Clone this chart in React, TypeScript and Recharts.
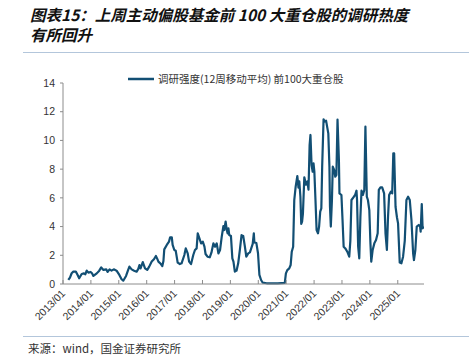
import React from 'react';
import { LineChart, Line, XAxis, YAxis, Legend } from 'recharts';

const seriesName = '调研强度(12周移动平均) 前100大重仓股';
const yearTicks = [2013, 2014, 2015, 2016, 2017, 2018, 2019, 2020, 2021, 2022, 2023, 2024, 2025];
const yTicks = [0, 2, 4, 6, 8, 10, 12, 14];

const yearFrac = [
  2013.19, 2013.25, 2013.31, 2013.37, 2013.46, 2013.52, 2013.58, 2013.67, 2013.75, 2013.80, 2013.85, 2013.91, 2013.99,
  2014.04, 2014.09, 2014.15, 2014.21, 2014.30, 2014.37, 2014.45, 2014.55, 2014.60, 2014.67, 2014.74, 2014.82, 2014.92,
  2015.02, 2015.10, 2015.16, 2015.26, 2015.32, 2015.38, 2015.46, 2015.55, 2015.64, 2015.70, 2015.74, 2015.78, 2015.86, 2015.94,
  2016.02, 2016.09, 2016.18, 2016.26, 2016.33, 2016.38, 2016.42, 2016.51, 2016.56, 2016.60, 2016.63, 2016.72, 2016.80, 2016.84, 2016.90, 2016.93, 2016.99,
  2017.04, 2017.11, 2017.19, 2017.25, 2017.35, 2017.40, 2017.47, 2017.52, 2017.59, 2017.67, 2017.73, 2017.79, 2017.83, 2017.89, 2017.95,
  2018.01, 2018.07, 2018.11, 2018.18, 2018.26, 2018.32, 2018.39, 2018.45, 2018.51, 2018.57, 2018.63, 2018.69, 2018.75, 2018.78, 2018.83, 2018.87, 2018.90, 2018.93, 2018.96,
  2019.02, 2019.07, 2019.11, 2019.16, 2019.22, 2019.28, 2019.34, 2019.40, 2019.46, 2019.52, 2019.57, 2019.64, 2019.70, 2019.80, 2019.84, 2019.86, 2019.93, 2019.99,
  2020.04, 2020.10, 2020.16, 2020.30, 2020.50, 2020.70, 2020.95, 2020.99,
  2021.04, 2021.11, 2021.16, 2021.20, 2021.25, 2021.29, 2021.34, 2021.40, 2021.44, 2021.47, 2021.51, 2021.54, 2021.57, 2021.60, 2021.65, 2021.71, 2021.76, 2021.80, 2021.84, 2021.87, 2021.91, 2021.95, 2021.98,
  2022.01, 2022.05, 2022.09, 2022.14, 2022.18, 2022.22, 2022.26, 2022.29, 2022.34, 2022.38, 2022.43, 2022.51, 2022.55, 2022.57, 2022.60, 2022.64, 2022.67, 2022.72, 2022.76, 2022.80, 2022.84, 2022.89, 2022.91, 2022.98,
  2023.02, 2023.06, 2023.12, 2023.19, 2023.26, 2023.30, 2023.34, 2023.41, 2023.47, 2023.52, 2023.54, 2023.58, 2023.62, 2023.66, 2023.70, 2023.75, 2023.80, 2023.84, 2023.89, 2023.93, 2023.98,
  2024.02, 2024.05, 2024.10, 2024.16, 2024.22, 2024.28, 2024.32, 2024.38, 2024.44, 2024.51, 2024.56, 2024.61, 2024.65, 2024.69, 2024.75, 2024.80, 2024.84, 2024.87, 2024.92, 2024.97,
  2025.01, 2025.07, 2025.13, 2025.19, 2025.25, 2025.31, 2025.37, 2025.43, 2025.49, 2025.55, 2025.58, 2025.63, 2025.68, 2025.75, 2025.80, 2025.82, 2025.86, 2025.89, 2025.94,
];

const intensity = [
  0.28, 0.45, 0.75, 0.86, 0.86, 0.65, 0.40, 0.70, 0.74, 0.68, 0.93, 0.79, 0.84,
  0.75, 0.56, 0.65, 0.74, 0.93, 1.16, 0.98, 1.02, 0.84, 1.02, 0.93, 1.02, 0.93,
  0.63, 0.33, 0.23, 0.56, 0.90, 1.21, 1.02, 0.93, 0.86, 1.05, 1.32, 1.09, 1.53, 1.09,
  0.98, 1.21, 1.56, 1.72, 1.95, 1.75, 1.56, 1.39, 1.25, 1.60, 2.41, 2.72, 2.95, 3.25, 3.25, 2.72, 2.37,
  2.32, 1.49, 1.39, 1.44, 2.02, 2.48, 2.13, 1.56, 1.39, 2.02, 2.37, 2.48, 3.53, 3.18, 2.83,
  2.95, 2.60, 2.09, 1.90, 1.86, 2.18, 2.83, 2.60, 2.83, 2.13, 2.37, 3.30, 4.04, 3.76, 4.35, 3.76, 3.53, 3.88, 3.41,
  3.34, 1.79, 1.56, 0.86, 0.93, 1.44, 2.37, 3.40, 3.35, 2.60, 1.90, 2.13, 2.20, 2.79, 3.53, 2.90, 2.86, 2.14,
  0.63, 0.28, 0.09, 0.05, 0.05, 0.05, 0.08, 0.74,
  0.97, 1.09, 1.32, 2.25, 2.60, 5.85, 6.78, 7.52, 6.71, 7.15, 6.08, 4.18, 4.34, 4.90, 7.43, 6.92, 7.15, 6.57, 9.68, 10.38, 8.29, 7.82, 8.40,
  7.82, 5.85, 3.76, 3.53, 4.00, 5.04, 5.27, 8.17, 11.47, 11.31, 11.38, 10.49, 8.17, 5.38, 4.00, 5.85, 8.17, 7.94, 7.47, 7.60, 11.45, 8.63, 6.31, 6.20,
  4.46, 2.60, 2.48, 2.25, 1.90, 3.00, 5.85, 6.04, 6.20, 6.50, 5.85, 2.60, 1.79, 4.65, 6.50, 6.20, 6.55, 10.96, 6.08, 5.85, 5.15,
  2.83, 1.56, 2.37, 2.83, 3.06, 3.53, 6.55, 6.73, 6.73, 6.31, 3.53, 2.37, 4.65, 6.20, 6.43, 6.31, 9.10, 9.10, 5.38, 4.65,
  4.22, 1.49, 1.44, 1.90, 3.00, 5.85, 6.08, 5.85, 4.46, 2.14, 1.67, 2.37, 4.00, 4.11, 4.00, 3.65, 5.57, 3.88, 4.00,
];

const data = yearFrac.map((t, i) => ({ t, v: intensity[i] }));

const LINE_COLOR = '#124f74';
const AXIS_COLOR = '#8c8c8c';
const TEXT_COLOR = '#333333';
const LATIN = '"Liberation Sans", Arial, "Noto Sans CJK SC", sans-serif';
const CJK = '"Noto Sans CJK SC", "Liberation Sans", sans-serif';

const XTick = (props: any) => {
  const { x, y, payload } = props;
  const ax = x + 3;
  const ay = y + 10;
  return (
    <g>
      <line x1={x} x2={x} y1={y} y2={y - 4} stroke={AXIS_COLOR} strokeWidth={1} />
      <text
        x={ax}
        y={ay}
        textAnchor="end"
        transform={`rotate(-45 ${ax} ${ay})`}
        fontSize={10.5}
        fontFamily={LATIN}
        fill={TEXT_COLOR}
      >
        {`${payload.value}/01`}
      </text>
    </g>
  );
};

const LegendContent = () => (
  <div style={{ display: 'flex', alignItems: 'center', whiteSpace: 'nowrap' }}>
    <svg width={28} height={8} style={{ display: 'block' }}>
      <line x1={1} x2={27} y1={4} y2={4} stroke={LINE_COLOR} strokeWidth={2.5} />
    </svg>
    <span style={{ fontSize: 10.5, fontFamily: CJK, color: TEXT_COLOR, marginLeft: 3, lineHeight: '14px' }}>
      {seriesName}
    </span>
  </div>
);

export default function App() {
  return (
    <div
      style={{
        position: 'absolute',
        left: 0,
        top: 0,
        width: 469,
        height: 357,
        overflow: 'hidden',
        background: '#ffffff',
      }}
    >
      <div
        style={{
          position: 'absolute',
          left: 30,
          top: 4,
          fontFamily: CJK,
          fontSize: 15.5,
          fontWeight: 700,
          fontStyle: 'italic',
          lineHeight: '20px',
          color: '#111111',
          whiteSpace: 'nowrap',
        }}
      >
        <div>图表15：上周主动偏股基金前 100 大重仓股的调研热度</div>
        <div>有所回升</div>
      </div>
      <div style={{ position: 'absolute', left: 23, right: 0, top: 52, height: 1, background: '#b3c6db' }} />

      <div style={{ position: 'absolute', left: 0, top: 0 }}>
        <LineChart width={469} height={357} data={data} margin={{ top: 83, right: 45, bottom: 33, left: 23 }}>
          <XAxis
            dataKey="t"
            type="number"
            domain={[2013, 2025.94]}
            ticks={yearTicks}
            allowDataOverflow
            height={40}
            tickSize={0}
            tickMargin={0}
            tickLine={false}
            axisLine={{ stroke: AXIS_COLOR, strokeWidth: 1 }}
            tick={<XTick />}
            interval={0}
          />
          <YAxis
            type="number"
            domain={[0, 14]}
            ticks={yTicks}
            width={40}
            tickSize={3}
            tickMargin={5}
            tickLine={{ stroke: AXIS_COLOR }}
            axisLine={{ stroke: AXIS_COLOR, strokeWidth: 1 }}
            tick={{ fontSize: 10.5, fontFamily: LATIN, fill: TEXT_COLOR }}
            interval={0}
          />
          <Legend
            layout="horizontal"
            verticalAlign="middle"
            align="center"
            content={<LegendContent />}
            wrapperStyle={{ position: 'absolute', left: 127, top: 72, width: 260, height: 14 }}
          />
          <Line
            type="linear"
            dataKey="v"
            name={seriesName}
            stroke={LINE_COLOR}
            strokeWidth={2.2}
            strokeLinejoin="round"
            dot={false}
            activeDot={false}
            isAnimationActive={false}
          />
        </LineChart>
      </div>

      <div style={{ position: 'absolute', left: 23, right: 0, top: 336, height: 1, background: '#b3c6db' }} />
      <div
        style={{
          position: 'absolute',
          left: 28,
          top: 340,
          fontFamily: CJK,
          fontSize: 11.5,
          lineHeight: '16px',
          color: '#333333',
          whiteSpace: 'nowrap',
        }}
      >
        来源：wind，国金证券研究所
      </div>
    </div>
  );
}
